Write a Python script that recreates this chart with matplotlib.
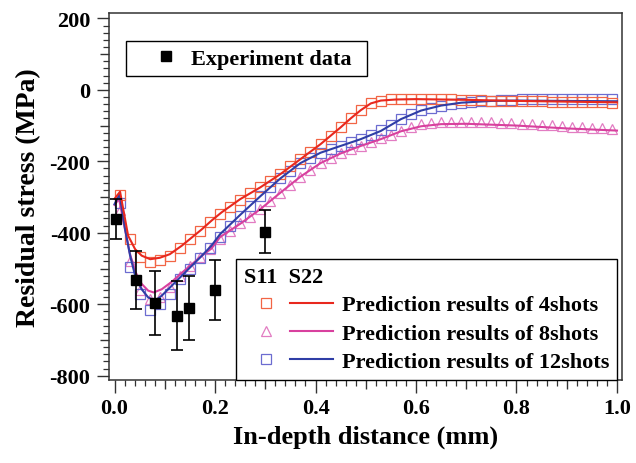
import matplotlib
matplotlib.use('Agg')
import matplotlib.pyplot as plt
from matplotlib.lines import Line2D
from matplotlib.patches import Rectangle
from matplotlib.legend_handler import HandlerTuple
from matplotlib.ticker import FixedLocator, MultipleLocator, FuncFormatter

plt.rcParams['font.family'] = ['Liberation Serif', 'DejaVu Serif']
plt.rcParams['font.weight'] = 'bold'
plt.rcParams['axes.unicode_minus'] = False

# ---------------- data ----------------
# experiment
x_exp = [0.002, 0.042, 0.081, 0.125, 0.148, 0.200, 0.299]
y_exp = [-362, -531, -597, -632, -611, -560, -397]
err_exp = [56, 81, 89, 97, 90, 83, 60]

# S11 marker positions (mm)
x_s11 = [0.01, 0.03, 0.05, 0.07, 0.09, 0.11, 0.13, 0.15, 0.17, 0.19,
         0.21, 0.23, 0.25, 0.27, 0.29, 0.31, 0.33, 0.35, 0.37, 0.39,
         0.41, 0.43, 0.45, 0.47, 0.49, 0.51, 0.53, 0.55, 0.57, 0.59,
         0.61, 0.63, 0.65, 0.67, 0.69, 0.71, 0.73, 0.75, 0.77, 0.79,
         0.81, 0.83, 0.85, 0.87, 0.89, 0.91, 0.93, 0.95, 0.97, 0.99]

s11_4 = [-295, -418, -469, -482, -476, -466, -442, -418, -395, -370,
         -348, -328, -308, -290, -273, -255, -236, -214, -194, -173,
         -152, -128, -104, -80, -56, -38, -30, -27, -26, -26,
         -26, -26, -27, -27, -28, -28, -29, -30, -30, -31,
         -31, -32, -32, -33, -33, -34, -34, -35, -35, -36]

s11_8 = [-335, -478, -560, -585, -580, -552, -520, -494, -468, -446,
         -418, -394, -374, -355, -334, -311, -288, -265, -243, -223,
         -205, -190, -177, -166, -156, -146, -136, -125, -114, -104,
         -97, -92, -90, -89, -89, -89, -90, -91, -92, -93,
         -95, -96, -98, -99, -101, -103, -104, -106, -108, -110]

s11_12 = [-318, -497, -572, -615, -600, -570, -530, -500, -470, -442,
          -412, -382, -352, -325, -298, -272, -248, -226, -206, -190,
          -176, -165, -156, -146, -137, -126, -113, -98, -82, -68,
          -57, -50, -44, -40, -36, -33, -31, -30, -29, -28,
          -27, -26, -26, -26, -26, -26, -26, -26, -27, -27]

# S22 curves
x_22_4 = [0.0, 0.011, 0.021, 0.027, 0.041, 0.054, 0.071, 0.09, 0.11, 0.134,
          0.154, 0.174, 0.193, 0.213, 0.25, 0.29, 0.33, 0.37, 0.41, 0.45,
          0.47, 0.49, 0.51, 0.53, 0.56, 0.6, 0.7, 0.8, 0.9, 1.0]
s22_4 = [-305, -285, -362, -408, -446, -464, -474, -470, -460, -436,
         -413, -390, -366, -343, -306, -273, -236, -194, -152, -105,
         -80, -57, -38, -30, -27, -26, -28, -31, -33, -35]

x_22_8 = [0.0, 0.009, 0.02, 0.03, 0.04, 0.054, 0.067, 0.078, 0.094, 0.114,
          0.134, 0.154, 0.174, 0.193, 0.21, 0.25, 0.29, 0.33, 0.37, 0.41,
          0.45, 0.49, 0.53, 0.57, 0.61, 0.65, 0.7, 0.8, 0.9, 1.0]
s22_8 = [-322, -305, -385, -455, -505, -543, -562, -567, -558, -537,
         -512, -488, -464, -444, -412, -375, -334, -288, -243, -205,
         -178, -157, -138, -116, -102, -96, -95, -100, -108, -114]

x_22_12 = [0.0, 0.01, 0.021, 0.031, 0.041, 0.054, 0.067, 0.081, 0.094, 0.114,
           0.134, 0.154, 0.174, 0.193, 0.21, 0.25, 0.29, 0.33, 0.37, 0.41,
           0.45, 0.49, 0.53, 0.57, 0.61, 0.65, 0.69, 0.75, 0.8, 0.9, 1.0]
s22_12 = [-320, -292, -390, -464, -520, -558, -581, -590, -576, -548,
          -520, -492, -464, -436, -404, -350, -298, -248, -205, -176,
          -157, -138, -115, -82, -58, -44, -36, -31, -30, -31, -32]

labels = ['Prediction results of 4shots', 'Prediction results of 8shots',
          'Prediction results of 12shots']

# colours
red_l, red_m = '#e8281e', '#f26545'
mag_l, mag_m = '#d8409e', '#e27cc2'
blu_l, blu_m = '#2f3ea6', '#6c6cd0'

# ---------------- figure ----------------
fig = plt.figure(figsize=(6.36, 4.64), dpi=100)
ax = fig.add_axes([0.1706, 0.1789, 0.8074, 0.7909])

ms = 7.8
mew = 0.9
ax.plot(x_s11, s11_8, ls='none', marker='^', mfc='none', mec=mag_m, ms=ms, mew=mew, zorder=2)
ax.plot(x_s11, s11_12, ls='none', marker='s', mfc='none', mec=blu_m, ms=ms, mew=mew, zorder=2)
ax.plot(x_s11, s11_4, ls='none', marker='s', mfc='none', mec=red_m, ms=ms, mew=mew, zorder=2)

ax.plot(x_22_8, s22_8, color=mag_l, lw=1.5, zorder=3)
ax.plot(x_22_12, s22_12, color=blu_l, lw=1.5, zorder=3)
ax.plot(x_22_4, s22_4, color=red_l, lw=1.5, zorder=4)

ax.errorbar(x_exp, y_exp, yerr=err_exp, fmt='s', color='k', ms=6.5,
            capsize=4, elinewidth=1.2, capthick=1.2, zorder=10)

ax.set_xlim(-0.012, 1.01)
ax.set_ylim(-812, 215)

# ticks
ax.xaxis.set_major_locator(FixedLocator([i / 10 for i in range(11)]))
ax.xaxis.set_minor_locator(MultipleLocator(0.02))
ax.xaxis.set_major_formatter(FuncFormatter(lambda v, p: f'{v:.1f}' if round(v * 10) % 2 == 0 else ''))
ax.yaxis.set_major_locator(FixedLocator(list(range(-800, 201, 100))))
ax.yaxis.set_minor_locator(MultipleLocator(20))
ax.yaxis.set_major_formatter(FuncFormatter(lambda v, p: f'{int(round(v))}' if int(round(v)) % 200 == 0 else ''))

ax.tick_params(which='major', direction='out', length=9, width=1.0, color='#333333',
               labelsize=16, pad=4)
ax.tick_params(which='minor', direction='out', length=4.5, width=0.9, color='#333333')
for t, v in zip(ax.xaxis.get_major_ticks(), [i / 10 for i in range(11)]):
    if round(v * 10) % 2 == 1:
        t.tick1line.set_markersize(6.5)
for t, v in zip(ax.yaxis.get_major_ticks(), list(range(-800, 201, 100))):
    if v % 200 != 0:
        t.tick1line.set_markersize(6.5)

for s in ax.spines.values():
    s.set_color('#333333')
    s.set_linewidth(1.1)

ax.set_xlabel('In-depth distance (mm)', fontsize=19, fontweight='bold', labelpad=5)
ax.set_ylabel('Residual stress (MPa)', fontsize=20, fontweight='bold', labelpad=6)

# legend 2 (S11 / S22)
hsty = dict(ls='none', mfc='none', ms=ms, mew=mew)
handles = [
    (Line2D([], [], marker='s', mec=red_m, **hsty), Line2D([], [], color=red_l, lw=1.5)),
    (Line2D([], [], marker='^', mec=mag_m, **hsty), Line2D([], [], color=mag_l, lw=1.5)),
    (Line2D([], [], marker='s', mec=blu_m, **hsty), Line2D([], [], color=blu_l, lw=1.5)),
]
leg2 = ax.legend(handles, labels, handler_map={tuple: HandlerTuple(ndivide=2, pad=0.1)},
                 loc='upper left', bbox_to_anchor=(0.2483, 0.3297), borderaxespad=0,
                 borderpad=0.36, handlelength=4.0, handletextpad=0.4, labelspacing=0.35,
                 title='S11  S22', title_fontproperties={'weight': 'bold', 'size': 16},
                 alignment='left', frameon=True, fancybox=False, edgecolor='k',
                 framealpha=1, prop={'weight': 'bold', 'size': 16})
leg2.get_frame().set_linewidth(1.0)
leg2.set_zorder(20)
ax.add_artist(leg2)

# legend 1 (experiment)
ax.add_patch(Rectangle((0.0341, 0.8283), 0.4693, 0.0954, transform=ax.transAxes,
                       facecolor='white', edgecolor='k', lw=1.0, zorder=19))
leg1 = ax.legend([Line2D([], [], ls='none', marker='s', color='k', ms=7.5)], ['Experiment data'],
                 loc='center left', bbox_to_anchor=(0.0906, 0.876), borderaxespad=0,
                 borderpad=0, handlelength=1.0, handletextpad=0.64, frameon=False,
                 prop={'weight': 'bold', 'size': 16})
leg1.set_zorder(21)

fig.savefig('out.png', dpi=100)
